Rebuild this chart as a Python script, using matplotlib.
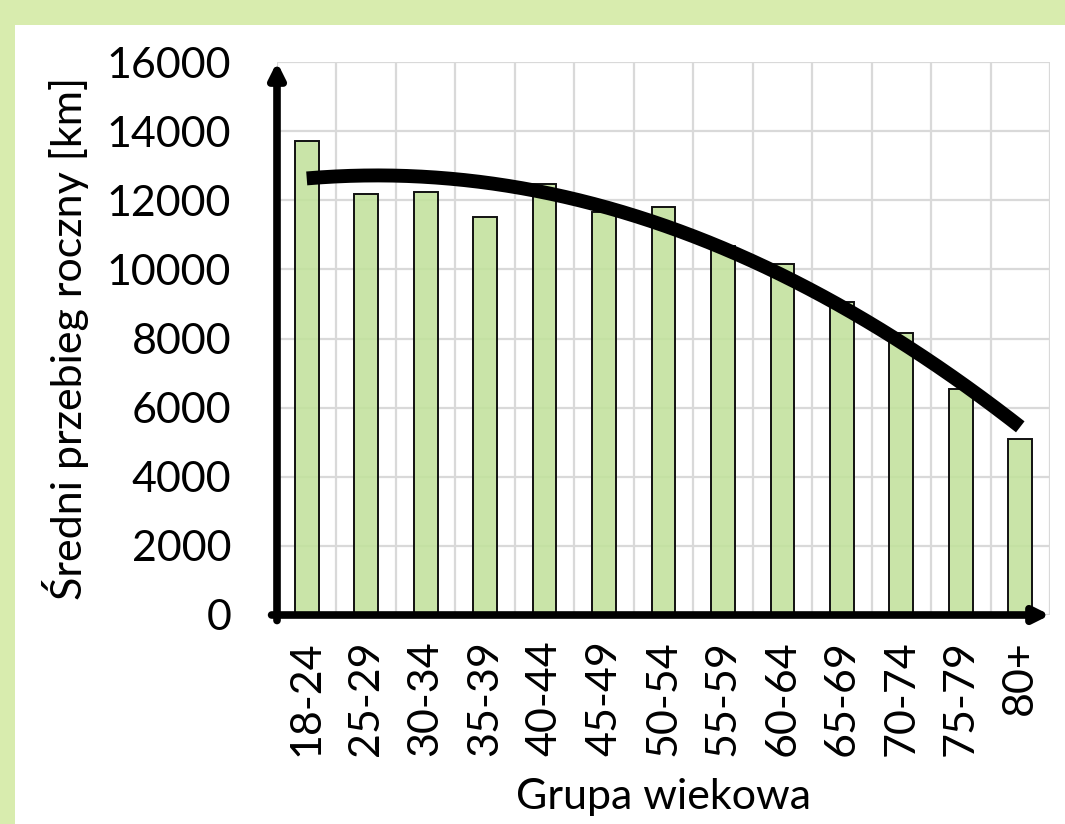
import numpy as np
import matplotlib
matplotlib.use("Agg")
import matplotlib.pyplot as plt
from matplotlib.patches import Rectangle
from matplotlib.colors import to_rgba

# --- data ---
groups = ["18-24", "25-29", "30-34", "35-39", "40-44", "45-49", "50-54",
          "55-59", "60-64", "65-69", "70-74", "75-79", "80+"]
mileage = [13700, 12170, 12245, 11510, 12480, 11650, 11800,
           10690, 10150, 9055, 8170, 6540, 5105]
yticks = [0, 2000, 4000, 6000, 8000, 10000, 12000, 14000, 16000]

FONT = "Lato"
FS = 31

fig = plt.figure(figsize=(10.65, 8.24), dpi=100, facecolor="#d8ecae")
# white panel inside the green frame
fig.patches.append(Rectangle((15 / 1065, 0), 1 - 15 / 1065, (824 - 25) / 824,
                             transform=fig.transFigure, facecolor="white",
                             edgecolor="none", zorder=-10))

ax = fig.add_axes([277 / 1065, 209 / 824, (1050 - 277) / 1065, (615 - 62) / 824])
ax.set_facecolor("none")

x = np.arange(len(groups))
ax.bar(x, mileage, width=0.4, color=to_rgba("#c2e19c", 0.88), edgecolor="#111111",
       linewidth=1.4, zorder=2)

# polynomial trend line (2nd order, like Excel)
coef = np.polyfit(x, mileage, 2)
xs = np.linspace(x[0], x[-1], 200)
ax.plot(xs, np.polyval(coef, xs), color="black", lw=10,
        solid_capstyle="butt", zorder=3)

ax.set_xlim(-0.5, len(groups) - 0.5)
ax.set_ylim(0, 16000)
ax.set_yticks(yticks)
ax.set_yticklabels([str(v) for v in yticks], fontsize=FS, family=FONT)
ax.set_xticks(x)
ax.set_xticklabels(groups, rotation=90, fontsize=FS, family=FONT)
ax.tick_params(axis="x", length=0, pad=18)
ax.tick_params(axis="y", length=0, pad=33)

# grid on category boundaries and on every y tick
ax.set_xticks(np.arange(-0.5, len(groups), 1), minor=True)
ax.grid(which="minor", axis="x", color="#d9d9d9", lw=1.6, zorder=0)
ax.grid(which="major", axis="y", color="#d9d9d9", lw=1.6, zorder=0)
ax.tick_params(which="minor", length=0)
for s in ax.spines.values():
    s.set_visible(False)

# thick arrow axes
arrow = dict(arrowstyle="-|>,head_length=0.9,head_width=0.45", color="black",
             lw=5.5, shrinkA=0, shrinkB=0)
ax.annotate("", xy=(0, 1.0), xytext=(0, -0.01), xycoords="axes fraction",
            arrowprops=arrow, zorder=5, annotation_clip=False)
ax.annotate("", xy=(1.0, 0), xytext=(-0.007, 0), xycoords="axes fraction",
            arrowprops=arrow, zorder=5, annotation_clip=False)

ax.set_ylabel("Średni przebieg roczny [km]", fontsize=FS, family=FONT, labelpad=13)
ax.set_xlabel("Grupa wiekowa", fontsize=FS, family=FONT, labelpad=16)

fig.savefig("out.png", dpi=100, facecolor=fig.get_facecolor())
